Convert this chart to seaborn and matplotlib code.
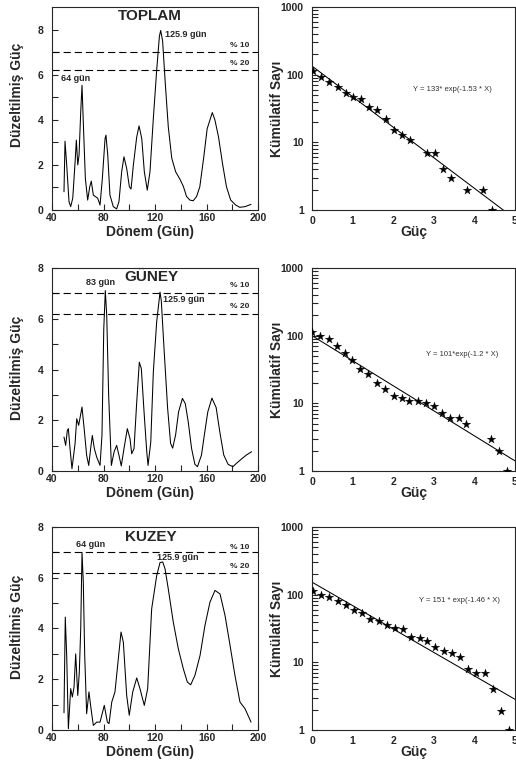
import numpy as np
import seaborn as sns
from matplotlib import pyplot as plt
from matplotlib.ticker import FixedLocator, LogLocator, NullFormatter

# --- periodogram curves (period in days, normalised power) ---
toplam_x = [49.3, 50.1, 51.4, 53.2, 54.5, 56.1, 57.9, 58.9, 60.0, 61.0, 62.3, 63.3,
            64.3, 65.9, 67.7, 69.3, 70.5, 72.1, 73.9, 75.5, 77.3, 79.1, 81.2, 81.9,
            83.3, 85.0, 87.6, 90.2, 92.0, 94.1, 95.9, 98.0, 100.1, 101.4, 103.2, 105.8,
            107.6, 109.7, 111.7, 114.0, 116.1, 118.7, 121.3, 123.4, 124.4, 125.9, 128.0,
            130.3, 133.0, 136.0, 139.5, 142.0, 144.5, 147.1, 149.7, 152.3, 154.8, 157.9,
            160.5, 164.5, 166.5, 169.3, 172.4, 175.5, 178.8, 182.7, 185.8, 189.9, 194.6]
toplam_y = [0.81, 3.05, 2.00, 0.37, 0.15, 0.52, 2.10, 3.10, 2.00, 2.43, 4.35, 5.53,
            3.90, 1.40, 0.44, 1.03, 1.28, 0.66, 0.59, 0.52, 0.22, 1.40, 3.17, 3.32,
            2.43, 0.66, 0.15, 0.05, 0.37, 1.70, 2.36, 1.84, 1.03, 0.93, 2.00, 3.24,
            3.73, 3.17, 1.70, 0.88, 1.70, 4.06, 6.20, 7.70, 7.96, 7.50, 5.60,
            3.70, 2.30, 1.70, 1.35, 1.05, 0.60, 0.44, 0.41, 0.60, 1.03, 2.36,
            3.60, 4.32, 4.00, 3.25, 2.07, 1.03, 0.44, 0.22, 0.12, 0.15, 0.25]

guney_x = [49.3, 50.6, 51.9, 52.7, 54.0, 55.5, 57.9, 59.2, 60.7, 63.3, 65.1, 66.9,
           68.5, 70.0, 71.3, 72.9, 74.7, 77.3, 78.8, 80.2, 81.4, 82.5, 84.0, 86.1,
           88.2, 90.2, 92.0, 93.8, 95.9, 98.5, 100.6, 101.9, 103.7, 105.8, 107.8, 109.4,
           111.5, 113.6, 114.6, 116.7, 118.7, 121.3, 123.9, 124.9, 127.0, 129.8, 132.1,
           133.7, 136.0, 138.3, 141.3, 143.5, 145.8, 148.4, 151.0, 153.0, 156.1, 158.7,
           161.0, 164.2, 167.5, 170.3, 173.4, 176.8, 180.5, 183.2, 187.1, 191.0, 195.0]
guney_y = [1.34, 1.01, 1.60, 1.67, 0.88, 0.09, 1.08, 2.06, 1.80, 2.52, 1.60, 0.62,
           0.22, 0.88, 1.40, 0.88, 0.55, 0.22, 1.40, 5.60, 7.11, 6.13, 2.98, 0.22,
           0.75, 1.01, 0.62, 0.20, 0.88, 1.67, 1.27, 0.68, 0.88, 2.72, 4.29, 4.03,
           2.32, 0.75, 0.22, 1.14, 3.90, 5.88, 7.05, 6.70, 4.83, 2.47, 1.09,
           0.90, 1.42, 2.33, 2.86, 2.66, 1.94, 0.89, 0.26, 0.17, 0.63, 1.55,
           2.33, 2.87, 2.50, 1.55, 0.63, 0.26, 0.17, 0.30, 0.47, 0.63, 0.76]

kuzey_x = [49.3, 50.3, 51.4, 52.7, 54.5, 55.8, 57.1, 58.4, 60.0, 61.2, 62.3, 63.3,
           64.3, 65.4, 66.9, 68.7, 70.3, 72.1, 74.7, 77.3, 80.6, 83.0, 84.3, 86.4,
           88.9, 91.0, 93.6, 95.4, 98.0, 100.0, 102.7, 105.8, 108.3, 111.7, 114.3, 117.4,
           121.3, 123.9, 126.0, 127.8, 130.3, 134.2, 138.1, 142.0, 145.1, 147.7, 151.0,
           155.0, 158.8, 162.7, 166.6, 170.5, 174.4, 178.3, 182.1, 186.0, 189.9, 194.6]
kuzey_y = [0.68, 4.45, 2.94, 0.05, 1.63, 1.30, 1.69, 3.00, 1.36, 2.28, 3.98, 7.00,
           5.82, 2.94, 0.64, 1.50, 0.84, 0.18, 0.31, 0.31, 0.97, 0.31, 0.25, 1.10,
           1.50, 2.55, 3.86, 3.46, 1.36, 0.58, 1.50, 2.05, 1.63, 0.97, 1.63, 4.77,
           6.08, 6.60, 6.62, 6.35, 5.56, 4.25, 3.20, 2.41, 1.89, 1.78, 2.15,
           2.94, 4.12, 5.04, 5.50, 5.36, 4.51, 3.33, 2.15, 1.10, 0.84, 0.31]

sig_levels = [7.0, 6.2]
sig_labels = ["% 10", "% 20"]

# --- cumulative counts (power, cumulative number) ---
toplam_g = [0.02, 0.22, 0.43, 0.63, 0.83, 1.02, 1.21, 1.41, 1.61, 1.81, 2.02, 2.22,
            2.42, 2.83, 3.03, 3.22, 3.43, 3.81, 4.22, 4.43]
toplam_n = [112, 93, 77, 66, 54.5, 47, 43, 33, 29.6, 22.5, 15.2, 12.8,
            11, 6.9, 6.9, 4.0, 2.97, 1.97, 1.97, 1.0]
toplam_fit_x = [0, 5]
toplam_fit_y = [134, 0.74]

guney_g = [0.0, 0.2, 0.41, 0.61, 0.8, 0.99, 1.19, 1.39, 1.59, 1.8, 2.01, 2.21,
           2.4, 2.61, 2.81, 3.01, 3.2, 3.41, 3.61, 3.8, 4.4, 4.6, 4.8]
guney_n = [114, 98, 88, 71, 56, 44, 32.5, 26.8, 20.1, 16.4, 13, 12,
           11, 11, 10, 9.1, 7.1, 6.0, 6.0, 4.9, 3.0, 2.0, 1.0]
guney_fit_x = [0, 5]
guney_fit_y = [100, 1.41]

kuzey_g = [0.02, 0.22, 0.43, 0.63, 0.84, 1.03, 1.24, 1.43, 1.64, 1.84, 2.05, 2.25,
           2.44, 2.65, 2.84, 3.04, 3.24, 3.44, 3.64, 3.84, 4.04, 4.25, 4.45, 4.65, 4.84]
kuzey_n = [112, 98, 91, 81, 71, 60, 53, 44, 40.5, 35.8, 32, 31,
           23.8, 23, 20.6, 16.8, 14.8, 13.7, 11.8, 7.9, 7.0, 7.0, 4.0, 1.93, 1.0]
kuzey_fit_x = [0, 5]
kuzey_fit_y = [153, 2.84]

period_ticks = [40, 80, 120, 160, 200]
power_ticks = [0, 2, 4, 6, 8]
count_ticks = [1, 10, 100, 1000]
count_labels = ["1", "10", "100", "1000"]
guc_ticks = [0, 1, 2, 3, 4, 5]


def period_panel(ax, x, y, ymax, title, tpos, ylab_y):
    sns.lineplot(x=x, y=y, ax=ax, color="black", lw=0.75, estimator=None)
    for lev in sig_levels:
        ax.axhline(lev, color="black", lw=0.8, ls=(0, (6.5, 3.5)))
    ax.set_xlim(40, 200)
    ax.set_ylim(0, ymax)
    ax.set_xticks(period_ticks)
    ax.set_yticks(power_ticks)
    ax.xaxis.set_minor_locator(FixedLocator([60, 100, 140, 180]))
    ax.yaxis.set_minor_locator(FixedLocator([1, 3, 5, 7]))
    ax.tick_params(which="both", direction="in", length=4, width=0.8, labelsize=7.5)
    ax.tick_params(axis="x", pad=2.5)
    ax.tick_params(axis="y", pad=6)
    ax.text(tpos[0], tpos[1], title, ha="center", va="center", fontsize=11, fontweight="bold")
    ax.set_xlabel("Dönem (Gün)", fontsize=10, fontweight="bold")
    ax.set_ylabel("Düzeltilmiş Güç", fontsize=10, fontweight="bold")
    ax.xaxis.set_label_coords(0.476, -0.075)
    ax.yaxis.set_label_coords(-0.135, ylab_y)


def count_panel(ax, g, n, fx, fy, eq, epos):
    sns.lineplot(x=fx, y=fy, ax=ax, color="black", lw=0.75, estimator=None)
    sns.scatterplot(x=g, y=n, ax=ax, marker="*", s=42, color="black",
                    edgecolor="black", linewidth=0.2, zorder=3)
    ax.set_yscale("log")
    ax.set_xlim(0, 5)
    ax.set_ylim(1, 1000)
    ax.set_xticks(guc_ticks)
    ax.set_yticks(count_ticks, labels=count_labels)
    ax.yaxis.set_minor_locator(LogLocator(base=10, subs=np.arange(2, 10)))
    ax.yaxis.set_minor_formatter(NullFormatter())
    ax.tick_params(which="both", direction="in", length=4, width=0.8, labelsize=7.5)
    ax.tick_params(axis="x", length=0, pad=4.5)
    ax.tick_params(axis="y", pad=6)
    ax.text(epos[0], epos[1], eq, ha="center", va="center", fontsize=5.5,
            fontweight="normal", color="#333333")
    ax.set_xlabel("Güç", fontsize=10, fontweight="bold")
    ax.set_ylabel("Kümülatif Sayı", fontsize=10, fontweight="bold")
    ax.xaxis.set_label_coords(0.5, -0.075)
    ax.yaxis.set_label_coords(-0.14, 0.5)


sns.set_style("ticks")
plt.rcParams["font.family"] = ["Liberation Sans", "DejaVu Sans"]
plt.rcParams["font.weight"] = "bold"
plt.rcParams["axes.linewidth"] = 0.8

fig = plt.figure(figsize=(5.16, 7.71), dpi=100)
bottoms = [0.7276, 0.3891, 0.0532]
left_axes = [fig.add_axes([0.1008, b, 0.3992, 0.2633]) for b in bottoms]
right_axes = [fig.add_axes([0.6047, b, 0.3934, 0.2633]) for b in bottoms]

lbl = dict(fontsize=6.5, fontweight="bold", va="center")
pct = dict(fontsize=6, fontweight="bold", va="center", ha="right")

# TOPLAM
ax = left_axes[0]
period_panel(ax, toplam_x, toplam_y, 9, "TOPLAM", (116, 8.62), 0.567)
ax.text(127.5, 7.8, "125.9 gün", ha="left", **lbl)
ax.text(47.3, 5.85, "64 gün", ha="left", **lbl)
ax.text(193, 7.3, sig_labels[0], **pct)
ax.text(193, 6.5, sig_labels[1], **pct)

# GÜNEY
ax = left_axes[1]
period_panel(ax, guney_x, guney_y, 8, "GÜNEY", (117.4, 7.65), 0.507)
ax.text(77.4, 7.42, "83 gün", ha="center", **lbl)
ax.text(126.0, 6.75, "125.9 gün", ha="left", **lbl)
ax.text(193, 7.32, sig_labels[0], **pct)
ax.text(193, 6.49, sig_labels[1], **pct)

# KUZEY
ax = left_axes[2]
period_panel(ax, kuzey_x, kuzey_y, 8, "KUZEY", (116.8, 7.6), 0.509)
ax.text(69.6, 7.3, "64 gün", ha="center", **lbl)
ax.text(121.3, 6.78, "125.9 gün", ha="left", **lbl)
ax.text(193, 7.21, sig_labels[0], **pct)
ax.text(193, 6.43, sig_labels[1], **pct)

count_panel(right_axes[0], toplam_g, toplam_n, toplam_fit_x, toplam_fit_y,
            "Y = 133* exp(-1.53 * X)", (3.46, 60))
count_panel(right_axes[1], guney_g, guney_n, guney_fit_x, guney_fit_y,
            "Y = 101*exp(-1.2 * X)", (3.69, 52.6))
count_panel(right_axes[2], kuzey_g, kuzey_n, kuzey_fit_x, kuzey_fit_y,
            "Y = 151 * exp(-1.46 * X)", (3.62, 83))

fig.savefig("out.png", dpi=100)
